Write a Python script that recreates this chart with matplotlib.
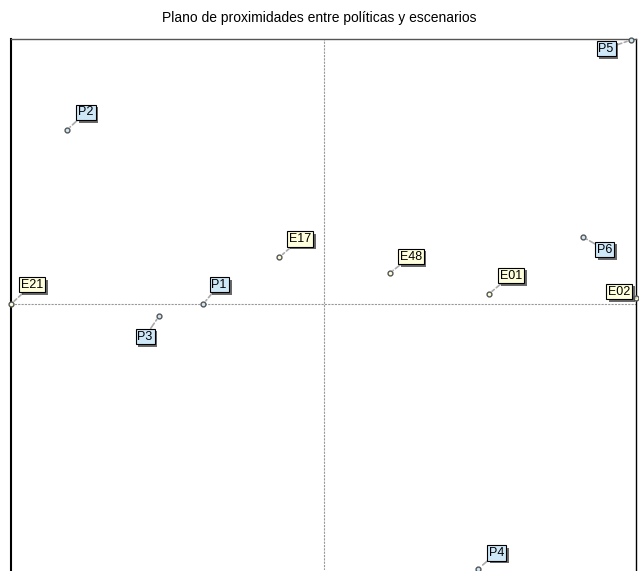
import matplotlib.pyplot as plt
import matplotlib.patheffects as pe

# Coordinates read from the proximity plane (normalised axes -1..1)
labels = ['P2', 'E21', 'P1', 'P3', 'E17', 'E48', 'E01', 'P6', 'E02', 'P5', 'P4']
x_vals = [-0.821, -1.0, -0.385, -0.526, -0.141, 0.212, 0.529, 0.830, 1.0, 0.984, 0.494]
y_vals = [0.657, 0.0, 0.0, -0.045, 0.177, 0.117, 0.038, 0.253, 0.023, 0.996, -1.0]

# label offsets in pixels (dx, dy) from the point
offsets = [(19, 19), (21, 21), (16, 21), (-14, -19), (21, 20), (21, 18),
           (22, 20), (22, -11), (-17, 8), (-25, -7), (19, 18)]

fig = plt.figure(figsize=(6.39, 5.71), dpi=100)
ax = fig.add_axes([11 / 639, 1 / 571, 625 / 639, 531 / 571])
ax.set_xlim(-1, 1)
ax.set_ylim(-1.003, 1)
ax.set_xticks([])
ax.set_yticks([])
for side in ['left', 'top', 'right']:
    ax.spines[side].set_color('black')
    ax.spines[side].set_linewidth(1)
ax.spines['left'].set_linewidth(1.5)
ax.spines['top'].set_color('#555555')
ax.spines['bottom'].set_visible(False)

ax.axhline(0, color='#999999', linestyle=(0, (2, 1)), linewidth=0.8, zorder=1)
ax.axvline(0, color='#999999', linestyle=(0, (2, 1)), linewidth=0.8, zorder=1)

fig.text(0.5, 1 - 18 / 571, 'Plano de proximidades entre políticas y escenarios',
         ha='center', va='center', fontsize=10, family='Liberation Sans')

for lab, x, y, (dx, dy) in zip(labels, x_vals, y_vals, offsets):
    face = '#cfe8f8' if lab.startswith('P') else '#ffffdd'
    ax.plot(x, y, 'o', ms=3.5, mfc=face, mec='#555555', mew=1.0, clip_on=False, zorder=4)
    t = ax.annotate(lab, (x, y), xytext=(dx * 0.72, dy * 0.72), textcoords='offset points',
                    ha='center', va='center_baseline', fontsize=9, family='Liberation Sans',
                    annotation_clip=False, zorder=5,
                    bbox=dict(boxstyle='square,pad=0.15', fc=face, ec='black', lw=0.8),
                    arrowprops=dict(arrowstyle='-', color='#aaaaaa', linestyle='--',
                                    lw=1.2, shrinkA=0, shrinkB=3))
    t.get_bbox_patch().set_path_effects([
        pe.SimplePatchShadow(offset=(2, -2), shadow_rgbFace='#444444', alpha=0.8),
        pe.Normal()])

plt.savefig('out.png', dpi=100)
plt.close()
